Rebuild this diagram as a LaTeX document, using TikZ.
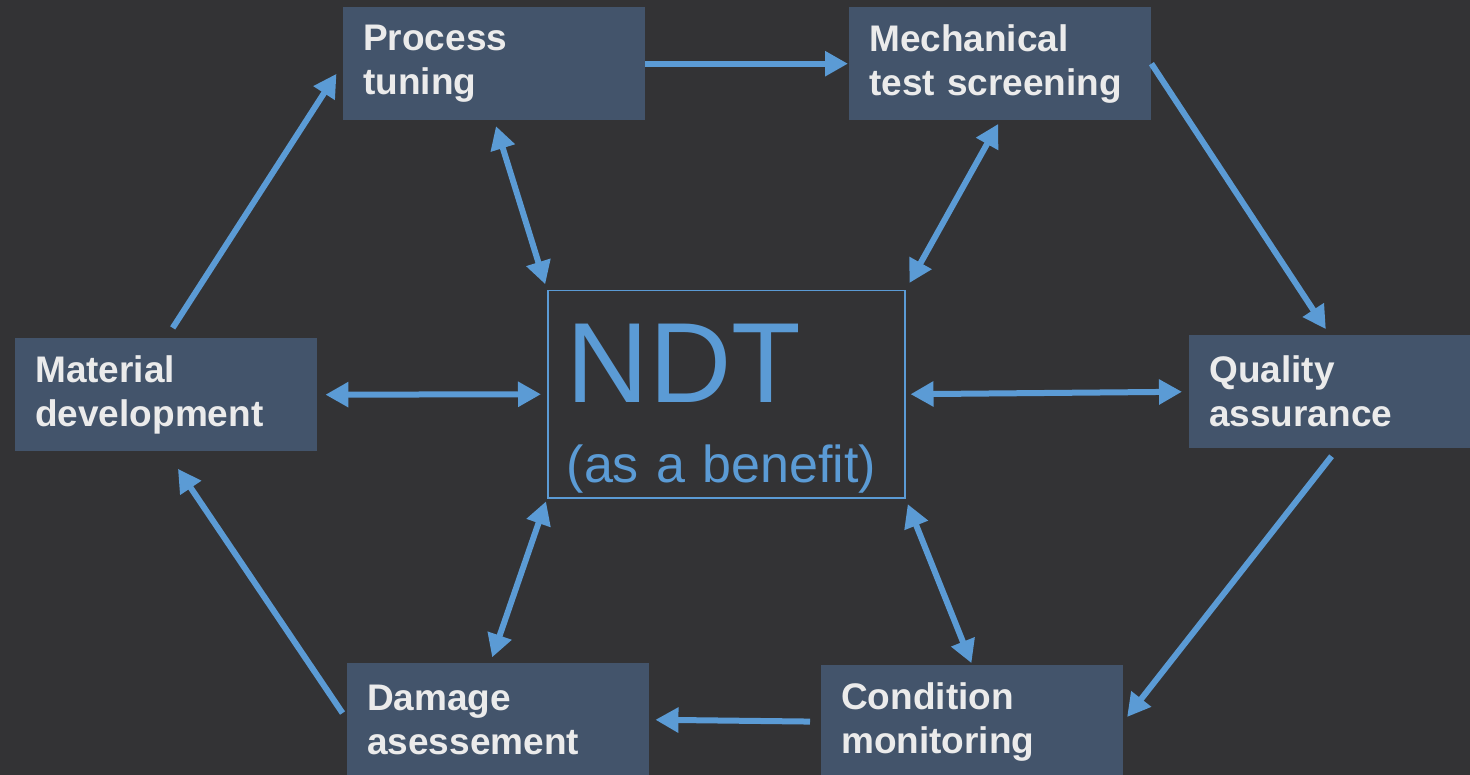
\documentclass[tikz,border=0pt]{standalone}
\usepackage{fontspec}
\setmainfont{Liberation Sans}
\usetikzlibrary{arrows.meta}

\definecolor{bgdark}{HTML}{333335}
\definecolor{boxfill}{HTML}{43546B}
\definecolor{ndtblue}{HTML}{5B9BD5}
\definecolor{boxtext}{HTML}{EBEBEB}

\begin{document}
\begin{tikzpicture}[x=1pt,y=-1pt,
	stage/.style={fill=boxfill, text=boxtext, anchor=north west, minimum height=113pt,
		inner xsep=20pt, inner ysep=0pt, align=left,
		font=\fontsize{37}{44}\selectfont\bfseries},
	hub/.style={draw=ndtblue, line width=1.5pt, text=ndtblue, anchor=north west,
		minimum width=357pt, minimum height=207pt, inner xsep=19pt, text width=319pt, align=left,
		font=\fontsize{52}{80}\selectfont},
	flow/.style={draw=ndtblue, line width=6pt, -{Triangle[length=23pt,width=24pt]}},
	both/.style={flow, {Triangle[length=23pt,width=24pt]}-{Triangle[length=23pt,width=24pt]}}]
	\useasboundingbox[fill=bgdark] (0,0) rectangle (1470,775);
	\node[stage, text width=262pt] (pt) at (343,7) {Process\\tuning};
	\node[stage, text width=262pt] (mech) at (849,7) {Mechanical\\test screening};
	\node[stage, text width=262pt] (mat) at (15,338) {Material\\development};
	\node[stage, text width=241pt] (qa) at (1189,335) {Quality\\assurance};
	\node[stage, text width=262pt] (dmg) at (347,663) {Damage\\asessement};
	\node[stage, text width=262pt] (cond) at (821,665) {Condition\\monitoring};
	\node[hub] (ndt) at (547,290) {\fontsize{114}{114}\selectfont\rule{0pt}{108pt}NDT\\
		\fontsize{52}{80}\selectfont(as a benefit)};
	\draw[flow, shorten >=1pt] (pt.east) -- (mech.west);
	\draw[flow, shorten >=7pt] (mech.east) -- (qa.north);
	\draw[flow, shorten <=10pt, shorten >=6pt] ([xshift=8pt]qa.south) -- (cond.east);
	\draw[flow, shorten <=11pt, shorten >=6pt] (cond.west) -- (dmg.east);
	\draw[flow, shorten <=8pt, shorten >=21pt] (dmg.west) -- (mat.south);
	\draw[flow, shorten <=12pt, shorten >=12pt] (mat.north) -- (pt.west);
	\draw[both, shorten <=6pt, shorten >=6pt] (pt.south) -- (ndt.north west);
	\draw[both, shorten <=4pt, shorten >=8pt] (mech.south) -- (ndt.north east);
	\draw[both, shorten <=8pt, shorten >=6pt] (mat.east) -- (ndt.west);
	\draw[both, shorten <=5pt, shorten >=7pt] (ndt.east) -- (qa.west);
	\draw[both, shorten <=3pt, shorten >=6pt] (ndt.south west) -- ([xshift=-8pt]dmg.north);
	\draw[both, shorten <=6pt, shorten >=2pt] (ndt.south east) -- (cond.north);
\end{tikzpicture}
\end{document}
